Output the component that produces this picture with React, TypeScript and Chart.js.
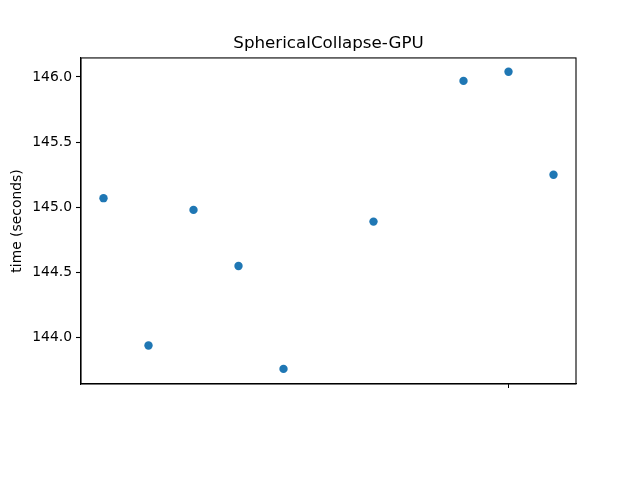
import React, { useEffect, useRef } from "react";
import { Chart, registerables } from "chart.js";

Chart.register(...registerables);

const TITLE = "SphericalCollapse-GPU";
const Y_LABEL = "time (seconds)";
const runIndex = [0, 1, 2, 3, 4, 6, 8, 9, 10];
const times = [145.07, 143.94, 144.98, 144.55, 143.76, 144.89, 145.97, 146.04, 145.25];
const yTicks = [144.0, 144.5, 145.0, 145.5, 146.0];
const xTicks = [9];

const FONT = "'DejaVu Sans', sans-serif";

const framePlugin = {
  id: "frame",
  afterDatasetsDraw(chart: any) {
    const { ctx, chartArea } = chart;
    ctx.save();
    ctx.strokeStyle = "#000";
    ctx.lineWidth = 1.1;
    ctx.strokeRect(chartArea.left, chartArea.top, chartArea.right - chartArea.left, chartArea.bottom - chartArea.top);
    ctx.restore();
  },
};

export default function App() {
  const ref = useRef<HTMLCanvasElement | null>(null);
  useEffect(() => {
    if (!ref.current) return;
    const chart = new Chart(ref.current, {
      type: "scatter",
      data: {
        datasets: [
          {
            data: runIndex.map((x, i) => ({ x, y: times[i] })),
            backgroundColor: "#1f77b4",
            borderWidth: 0,
            pointRadius: 4.2,
          },
        ],
      },
      options: {
        animation: false,
        responsive: false,
        layout: { padding: { left: 0, right: 64, top: 0, bottom: 0 } },
        plugins: {
          legend: { display: false },
          tooltip: { enabled: false },
          title: {
            display: true,
            text: TITLE,
            fullSize: false,
            color: "#000",
            font: { family: FONT, size: 16.7, weight: "normal" },
            padding: { top: 34, bottom: 3.9 },
          },
        },
        scales: {
          x: {
            type: "linear",
            min: -0.5,
            max: 10.5,
            afterFit(scale: any) {
              scale.height = 96;
            },
            afterBuildTicks(scale: any) {
              scale.ticks = xTicks.map((v) => ({ value: v }));
            },
            grid: { drawOnChartArea: false, tickLength: 4, tickColor: "#000", tickWidth: 1 },
            border: { display: true, color: "#000", width: 1.1 },
            ticks: { display: true, callback: () => "" },
          },
          y: {
            type: "linear",
            min: 143.644,
            max: 146.146,
            afterFit(scale: any) {
              scale.width = 81;
            },
            afterBuildTicks(scale: any) {
              scale.ticks = yTicks.map((v) => ({ value: v }));
            },
            grid: { drawOnChartArea: false, tickLength: 5, tickColor: "#000", tickWidth: 1.1 },
            border: { display: true, color: "#000", width: 1.1 },
            ticks: {
              color: "#000",
              padding: 4,
              font: { family: FONT, size: 13.9 },
              callback: (v: any) => Number(v).toFixed(1),
            },
            title: {
              display: true,
              text: Y_LABEL,
              color: "#000",
              font: { family: FONT, size: 13.9 },
              padding: { top: 9, bottom: 0 },
            },
          },
        },
      },
      plugins: [framePlugin],
    });
    return () => chart.destroy();
  }, []);
  return (
    <div style={{ position: "absolute", left: 0, top: 0, width: 640, height: 480, background: "#fff" }}>
      <canvas ref={ref} width={640} height={480} style={{ width: 640, height: 480 }} />
    </div>
  );
}
